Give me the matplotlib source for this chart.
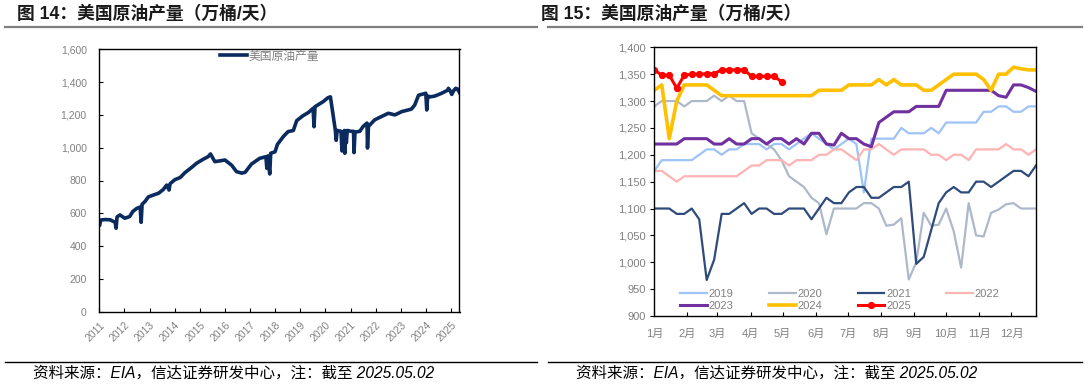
import matplotlib
matplotlib.use("Agg")
import matplotlib.pyplot as plt
from matplotlib.ticker import FuncFormatter
import pandas as pd
import numpy as np

plt.rcParams['font.family'] = ['Liberation Sans', 'Noto Sans CJK SC']

# ---------------- data: figure 14 (weekly US crude output, 万桶/天) ----------------
us_dates = ['2011-01-07', '2011-01-21', '2011-04-01', '2011-06-10', '2011-08-19', '2011-09-02',
            '2011-09-16', '2011-10-28', '2012-01-06', '2012-03-16', '2012-05-04', '2012-06-29',
            '2012-08-17', '2012-08-31', '2012-09-14', '2012-10-26', '2012-12-14', '2013-03-01',
            '2013-05-10', '2013-07-19', '2013-09-06', '2013-10-11', '2013-10-25', '2014-01-03',
            '2014-03-21', '2014-05-30', '2014-09-05', '2014-11-14', '2015-02-20', '2015-05-01',
            '2015-06-05', '2015-08-07', '2015-10-23', '2016-01-01', '2016-04-08', '2016-06-17',
            '2016-09-02', '2016-10-21', '2017-01-20', '2017-05-19', '2017-08-18', '2017-09-01',
            '2017-09-15', '2017-10-13', '2017-10-27', '2017-12-29', '2018-02-02', '2018-04-27',
            '2018-07-06', '2018-09-21', '2018-11-09', '2019-02-08', '2019-04-26', '2019-07-05',
            '2019-07-19', '2019-08-02', '2019-11-29', '2020-02-07', '2020-03-13', '2020-04-24',
            '2020-05-22', '2020-06-05', '2020-06-19', '2020-08-14', '2020-08-28', '2020-09-11',
            '2020-10-02', '2020-10-09', '2020-10-23', '2020-10-30', '2020-11-13', '2021-01-08',
            '2021-02-12', '2021-02-19', '2021-03-05', '2021-05-14', '2021-07-02', '2021-08-27',
            '2021-09-03', '2021-09-17', '2021-12-17', '2022-03-25', '2022-07-01', '2022-10-07',
            '2023-01-13', '2023-06-02', '2023-07-21', '2023-09-15', '2023-12-29', '2024-01-12',
            '2024-01-26', '2024-03-01', '2024-05-10', '2024-08-16', '2024-11-08', '2024-11-22',
            '2024-12-13', '2025-01-10', '2025-02-07', '2025-03-07', '2025-04-04', '2025-05-02']
us_values = [530, 559, 562, 560, 545, 509,
             578, 590, 570, 580, 612, 630,
             638, 545, 655, 672, 700, 712,
             722, 745, 772, 742, 780, 805,
             818, 848, 880, 905, 930, 945,
             962, 915, 920, 925, 893, 854,
             845, 850, 900, 935, 945, 874,
             950, 840, 966, 975, 1020, 1067,
             1098, 1105, 1165, 1195, 1214, 1240,
             1128, 1250, 1281, 1305, 1310, 1190,
             1110, 1045, 1105, 1100, 980, 1090,
             1105, 966, 1100, 1030, 1105, 1100,
             1100, 970, 1095, 1100, 1130, 1150,
             998, 1130, 1170, 1190, 1210, 1200,
             1220, 1235, 1260, 1320, 1332, 1230,
             1315, 1310, 1315, 1332, 1350, 1362,
             1350, 1325, 1348, 1362, 1358, 1336]
years_ticks = ['2011', '2012', '2013', '2014', '2015', '2016', '2017', '2018',
               '2019', '2020', '2021', '2022', '2023', '2024', '2025']

# ---------------- data: figure 15 (weekly, by year) ----------------
y2019 = [1170, 1190, 1190, 1190, 1190, 1190, 1200, 1210, 1210, 1200, 1210, 1210, 1220,
         1220, 1220, 1210, 1220, 1220, 1210, 1220, 1230, 1240, 1230, 1220, 1210, 1220,
         1230, 1220, 1130, 1230, 1230, 1230, 1230, 1250, 1240, 1240, 1240, 1250, 1240,
         1260, 1260, 1260, 1260, 1260, 1280, 1280, 1290, 1290, 1280, 1280, 1290, 1290]
y2020 = [1290, 1300, 1300, 1300, 1290, 1300, 1300, 1300, 1310, 1300, 1310, 1300, 1300,
         1240, 1230, 1220, 1210, 1190, 1160, 1150, 1140, 1120, 1110, 1052, 1100, 1100,
         1100, 1100, 1110, 1110, 1100, 1068, 1070, 1082, 968, 1000, 1092, 1068, 1070,
         1100, 1058, 990, 1110, 1050, 1048, 1092, 1098, 1108, 1110, 1100, 1100, 1100]
y2021 = [1100, 1100, 1100, 1090, 1090, 1100, 1080, 967, 1005, 1090, 1090, 1100, 1110,
         1090, 1100, 1100, 1090, 1090, 1100, 1100, 1100, 1080, 1100, 1120, 1110, 1110,
         1130, 1140, 1140, 1120, 1120, 1130, 1140, 1140, 1150, 997, 1010, 1060, 1110,
         1130, 1140, 1130, 1130, 1150, 1150, 1140, 1150, 1160, 1170, 1170, 1160, 1180]
y2022 = [1170, 1170, 1160, 1150, 1160, 1160, 1160, 1160, 1160, 1160, 1160, 1160, 1170,
         1180, 1180, 1190, 1190, 1190, 1180, 1190, 1190, 1190, 1200, 1200, 1210, 1210,
         1200, 1190, 1210, 1210, 1220, 1210, 1200, 1210, 1210, 1210, 1210, 1200, 1200,
         1190, 1200, 1200, 1190, 1210, 1210, 1210, 1210, 1220, 1210, 1210, 1200, 1210]
y2023 = [1220, 1220, 1220, 1220, 1230, 1230, 1230, 1230, 1220, 1220, 1230, 1220, 1220,
         1230, 1230, 1220, 1230, 1230, 1220, 1230, 1220, 1240, 1240, 1220, 1218, 1240,
         1230, 1230, 1220, 1215, 1260, 1270, 1280, 1280, 1280, 1290, 1290, 1290, 1290,
         1320, 1320, 1320, 1320, 1320, 1320, 1320, 1310, 1307, 1330, 1330, 1325, 1318]
y2024 = [1320, 1330, 1230, 1300, 1330, 1330, 1330, 1330, 1320, 1310, 1310, 1310, 1310,
         1310, 1310, 1310, 1310, 1310, 1310, 1310, 1310, 1310, 1320, 1320, 1320, 1320,
         1330, 1330, 1330, 1330, 1340, 1330, 1340, 1330, 1330, 1330, 1320, 1320, 1330,
         1340, 1350, 1350, 1350, 1350, 1340, 1320, 1350, 1350, 1363, 1360, 1358, 1358]
y2025 = [1358, 1348, 1348, 1324, 1348, 1350, 1350, 1351, 1351, 1358, 1358, 1358, 1358,
         1346, 1346, 1346, 1346, 1336]
month_labels = ['1月', '2月', '3月', '4月', '5月', '6月', '7月', '8月', '9月', '10月', '11月', '12月']

series15 = [('2019', y2019, '#9DC3F7', 1.6, None),
            ('2020', y2020, '#ADB9CA', 1.6, None),
            ('2021', y2021, '#2F4B7C', 1.6, None),
            ('2022', y2022, '#FFB3B3', 1.6, None),
            ('2023', y2023, '#7030A0', 2.2, None),
            ('2024', y2024, '#FFC000', 2.6, None),
            ('2025', y2025, '#FF0000', 2.2, 'o')]

TICK_C = '#808080'
W, H = 1088, 387
fig = plt.figure(figsize=(W / 100, H / 100), dpi=100)


def fx(px):
    return px / W


def fy(py):
    return 1 - py / H


# ---------------- header / footer ----------------
title_font = dict(family=['Liberation Sans', 'Noto Sans CJK SC'], fontweight='bold',
                  fontsize=12.8, color='#1A1A1A', va='center', ha='left')
fig.text(fx(17), fy(14), '图 14：美国原油产量（万桶/天）', **title_font)
fig.text(fx(541), fy(14), '图 15：美国原油产量（万桶/天）', **title_font)
for x0, x1 in [(5, 537), (548, 1082)]:
    fig.add_artist(plt.Line2D([fx(x0), fx(x1)], [fy(26.5), fy(26.5)], color='#7F7F7F', lw=1.6,
                              transform=fig.transFigure))
    fig.add_artist(plt.Line2D([fx(x0), fx(x1)], [fy(362), fy(362)], color='#000000', lw=1.0,
                              transform=fig.transFigure))
foot = '资料来源：EIA，信达证券研发中心，注：截至 2025.05.02'
for x0 in (33, 576):
    fig.text(fx(x0), fy(373), foot, family=['Liberation Sans', 'Noto Sans CJK SC'],
             style='italic', fontsize=11.2, color='#000000', va='center', ha='left')

# ---------------- left chart ----------------
axL = fig.add_axes([fx(99.3), fy(311.7), fx(459.5 - 99.3), (311.7 - 49.3) / H])
d = pd.to_datetime(us_dates)
axL.plot(d, us_values, color='#0B2A5E', lw=2.6, label='美国原油产量', solid_joinstyle='round')
axL.set_ylim(0, 1600)
axL.set_yticks(np.arange(0, 1601, 200))
axL.yaxis.set_major_formatter(FuncFormatter(lambda v, p: f'{v:,.0f}'))
axL.set_xlim(pd.Timestamp('2011-01-01'), pd.Timestamp('2025-05-02'))
xt = pd.to_datetime([y + '-01-01' for y in years_ticks])
axL.set_xticks(xt)
axL.set_xticklabels(years_ticks, rotation=45, ha='right', va='top', rotation_mode='anchor')
axL.tick_params(axis='both', direction='in', length=3, width=0.8, colors='#000000',
                labelcolor=TICK_C, labelsize=7.5)
axL.tick_params(axis='y', pad=9)
axL.tick_params(axis='x', pad=6)
for s in axL.spines.values():
    s.set_color('#000000')
    s.set_linewidth(1.0)
axL.legend(loc='upper left', bbox_to_anchor=(0.335, 0.995), frameon=False, fontsize=8.5,
           handlelength=2.3, handletextpad=0.1, borderpad=0, borderaxespad=0,
           labelcolor=TICK_C)

# ---------------- right chart ----------------
axR = fig.add_axes([fx(654.3), fy(316), fx(1036 - 654.3), (316 - 47.3) / H])
handles = {}
for name, vals, col, lw, mk in series15:
    xs = np.arange(len(vals)) * 7
    if mk:
        ln, = axR.plot(xs, vals, color=col, lw=lw, marker=mk, markersize=4.2, label=name)
    else:
        ln, = axR.plot(xs, vals, color=col, lw=lw, label=name)
    handles[name] = ln
axR.set_ylim(900, 1400)
axR.set_yticks(np.arange(900, 1401, 50))
axR.yaxis.set_major_formatter(FuncFormatter(lambda v, p: f'{v:,.0f}'))
month_pos = (pd.date_range('2021-01-01', periods=12, freq='MS').dayofyear - 1).to_numpy()
axR.set_xlim(0, 357)
axR.set_xticks(month_pos)
axR.set_xticklabels(month_labels)
axR.tick_params(axis='x', direction='in', length=3, width=0.8, colors='#000000',
                labelcolor=TICK_C, labelsize=8, pad=9)
axR.tick_params(axis='y', direction='out', length=3, width=0.8, colors='#000000',
                labelcolor=TICK_C, labelsize=8, pad=3)
for s in axR.spines.values():
    s.set_color('#000000')
    s.set_linewidth(1.0)
# legend filled row by row (matplotlib fills column-wise, so reorder)
order = ['2019', '2023', '2020', '2024', '2021', '2025', '2022']
axR.legend([handles[k] for k in order], order, loc='lower left', bbox_to_anchor=(0.068, 0.02),
           ncol=4, frameon=False, fontsize=8, handlelength=2.4, handletextpad=0.15,
           columnspacing=3.2, labelspacing=0.15, borderpad=0, borderaxespad=0,
           labelcolor=TICK_C)

fig.savefig('out.png', dpi=100)
